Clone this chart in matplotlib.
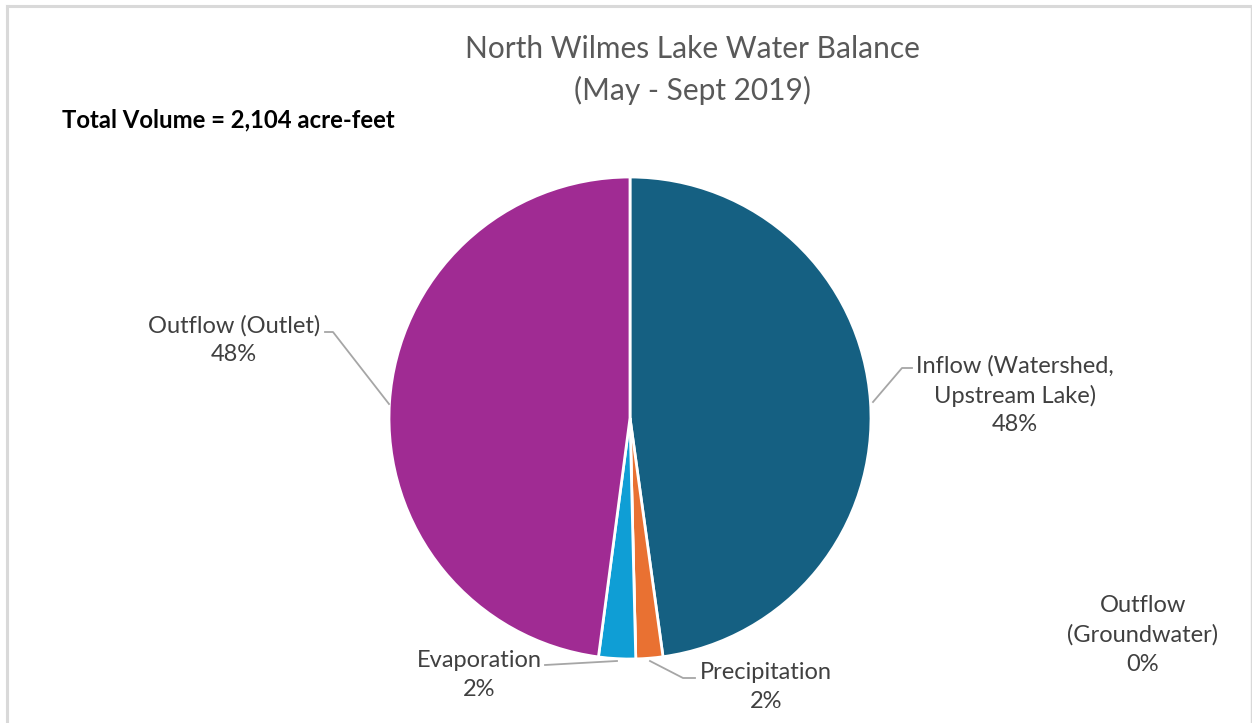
import matplotlib
matplotlib.use("Agg")
import matplotlib.pyplot as plt
from matplotlib.lines import Line2D

plt.rcParams['font.family'] = ['Lato', 'DejaVu Sans']

# Water balance components (acre-feet), May - Sept 2019
categories = ["Inflow (Watershed,\nUpstream Lake)", "Precipitation",
              "Outflow\n(Groundwater)", "Evaporation", "Outflow (Outlet)"]
volumes = [1006, 38, 0, 52, 1008]
colors = ["#156082", "#E97132", "#196B24", "#0F9ED5", "#A02B93"]
total_volume = 2104

W, H = 1252, 723
fig = plt.figure(figsize=(W / 100, H / 100), dpi=100)
ax = fig.add_axes([0, 0, 1, 1])
ax.set_xlim(0, W)
ax.set_ylim(0, H)
ax.set_aspect('equal')
ax.axis('off')

def py(y):
    # convert top-down pixel position to axis y
    return H - y

cx, cy, r = 630, py(418), 241
ax.pie(volumes, colors=colors, startangle=90, counterclock=False,
       center=(cx, cy), radius=r,
       wedgeprops=dict(edgecolor="white", linewidth=2))
ax.set_xlim(0, W)
ax.set_ylim(0, H)

pct = [f"{round(v / sum(volumes) * 100):.0f}%" for v in volumes]
label_color = "#404040"
lead = "#A6A6A6"
fs = 17
ls = 1.45

def leader(pts):
    xs = [p[0] for p in pts]
    ys = [py(p[1]) for p in pts]
    ax.add_line(Line2D(xs, ys, color=lead, lw=1.3))

# Inflow
ax.text(1015, py(395), categories[0] + "\n" + pct[0], ha="center", va="center",
        fontsize=fs, color=label_color, linespacing=ls)
leader([(873, 402), (902, 368), (912, 368)])

# Precipitation
ax.text(766, py(687), categories[1] + "\n" + pct[1], ha="center", va="center",
        fontsize=fs, color=label_color, linespacing=ls)
leader([(650, 661), (683, 678), (695, 678)])

# Outflow (Groundwater)
ax.text(1143, py(635), categories[2] + "\n" + pct[2], ha="center", va="center",
        fontsize=fs, color=label_color, linespacing=ls)

# Evaporation
ax.text(479, py(675), categories[3] + "\n" + pct[3], ha="center", va="center",
        fontsize=fs, color=label_color, linespacing=ls)
leader([(545, 665), (617, 661)])

# Outflow (Outlet)
ax.text(234, py(340), categories[4] + "\n" + pct[4], ha="center", va="center",
        fontsize=fs, color=label_color, linespacing=ls)
leader([(325, 332), (333, 332), (389, 404)])

# Title
ax.text(692, py(70), "North Wilmes Lake Water Balance\n(May - Sept 2019)",
        ha="center", va="center", fontsize=21.5, color="#595959", linespacing=1.5)

# Total volume note
ax.text(62, py(120), f"Total Volume = {total_volume:,} acre-feet", ha="left",
        va="center", fontsize=17.2, fontweight="bold", color="black")

# Chart frame
border = "#D9D9D9"
ax.add_line(Line2D([7, 1250], [py(6), py(6)], color=border, lw=2.2))
ax.add_line(Line2D([7, 7], [py(6), py(723)], color=border, lw=2.2))
ax.add_line(Line2D([1251, 1251], [py(6), py(723)], color=border, lw=1))

fig.savefig("out.png", dpi=100, facecolor="white")
